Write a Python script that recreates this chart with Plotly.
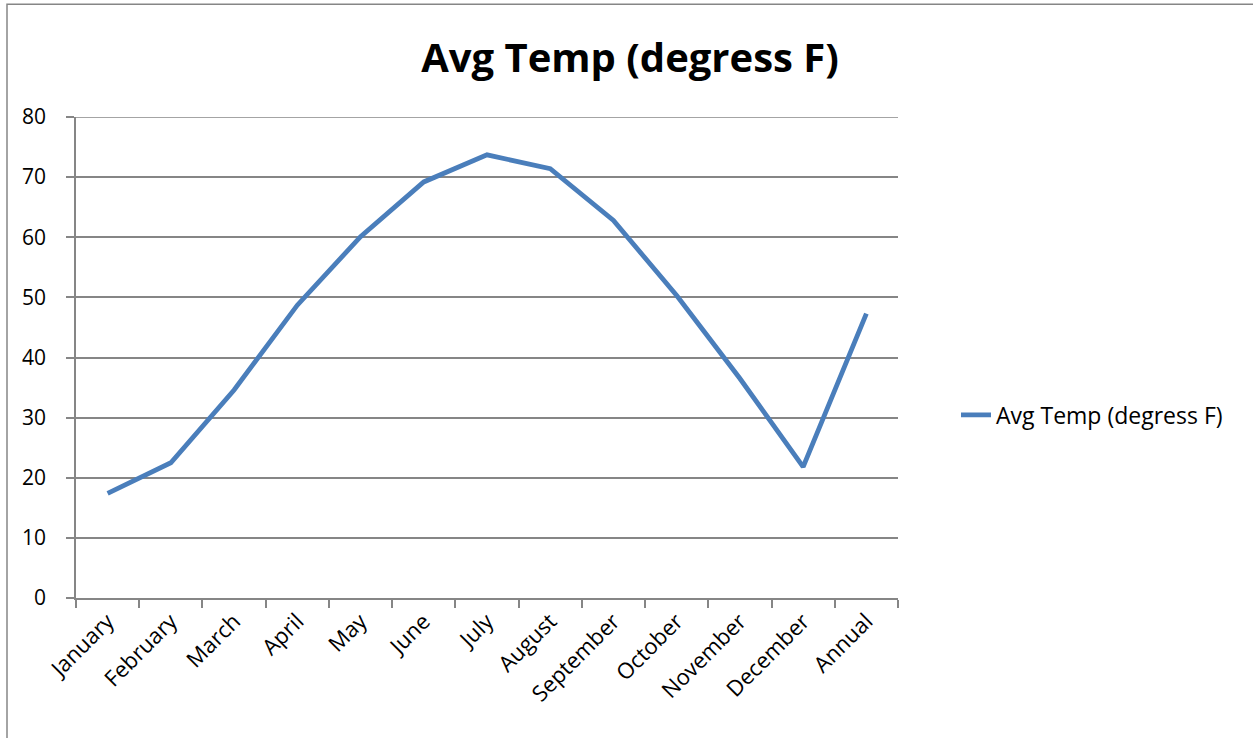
import plotly.graph_objects as go

months = ["January", "February", "March", "April", "May", "June", "July",
          "August", "September", "October", "November", "December", "Annual"]
avg_temp = [17.4, 22.5, 34.6, 48.7, 60.1, 69.2, 73.7, 71.4, 62.8, 50.3, 36.5, 21.8, 47.3]
series_name = "Avg Temp (degress F)"
y_ticks = [0, 10, 20, 30, 40, 50, 60, 70, 80]

FONT = "Open Sans, Calibri, Carlito, sans-serif"
GRID = "#868686"

fig = go.Figure()
fig.add_trace(go.Scatter(
    x=months, y=avg_temp, mode="lines", name=series_name,
    line=dict(color="#4A7EBB", width=4.8),
))

fig.update_layout(
    width=1253, height=738,
    margin=dict(l=76, r=355, t=117, b=140),
    paper_bgcolor="white", plot_bgcolor="white",
    font=dict(family=FONT, size=21, color="black"),
    title=dict(text="<b>Avg Temp (degress F)</b>", font=dict(size=40, family=FONT, color="black"),
               x=630/1253, xanchor="center", xref="container",
               y=1-58/738, yanchor="middle", yref="container"),
    showlegend=True,
    legend=dict(x=956/1253, xref="container", xanchor="left",
                y=1-415/738, yref="container", yanchor="middle",
                font=dict(size=23, family=FONT), bgcolor="rgba(0,0,0,0)"),
    shapes=[
        dict(type="rect", xref="paper", yref="paper",
             x0=-69/822, x1=1.6, y0=-0.5, y1=1 + (117-4)/481.6,
             line=dict(color=GRID, width=1.5), fillcolor="rgba(0,0,0,0)", layer="below"),
        dict(type="line", xref="paper", yref="y", x0=0, x1=1, y0=y_ticks[-1], y1=y_ticks[-1],
             line=dict(color=GRID, width=1.5), layer="below"),
    ],
)

fig.update_xaxes(
    type="category", range=[-0.5, 12.5], tickangle=-45,
    tickson="boundaries", ticks="outside", ticklen=8, tickcolor=GRID, tickwidth=1.5,
    showline=True, linecolor=GRID, linewidth=1.5, showgrid=False,
    tickfont=dict(size=22, family=FONT), fixedrange=True,
)
fig.update_yaxes(
    range=[0, 80], tickvals=y_ticks, ticks="outside", ticklen=8, tickcolor=GRID, tickwidth=1.5,
    showline=True, linecolor=GRID, linewidth=1.5, ticklabelstandoff=16,
    showgrid=True, gridcolor=GRID, gridwidth=1.5, zeroline=False,
    tickfont=dict(size=21, family=FONT), fixedrange=True,
)

fig.write_html("out.html")
